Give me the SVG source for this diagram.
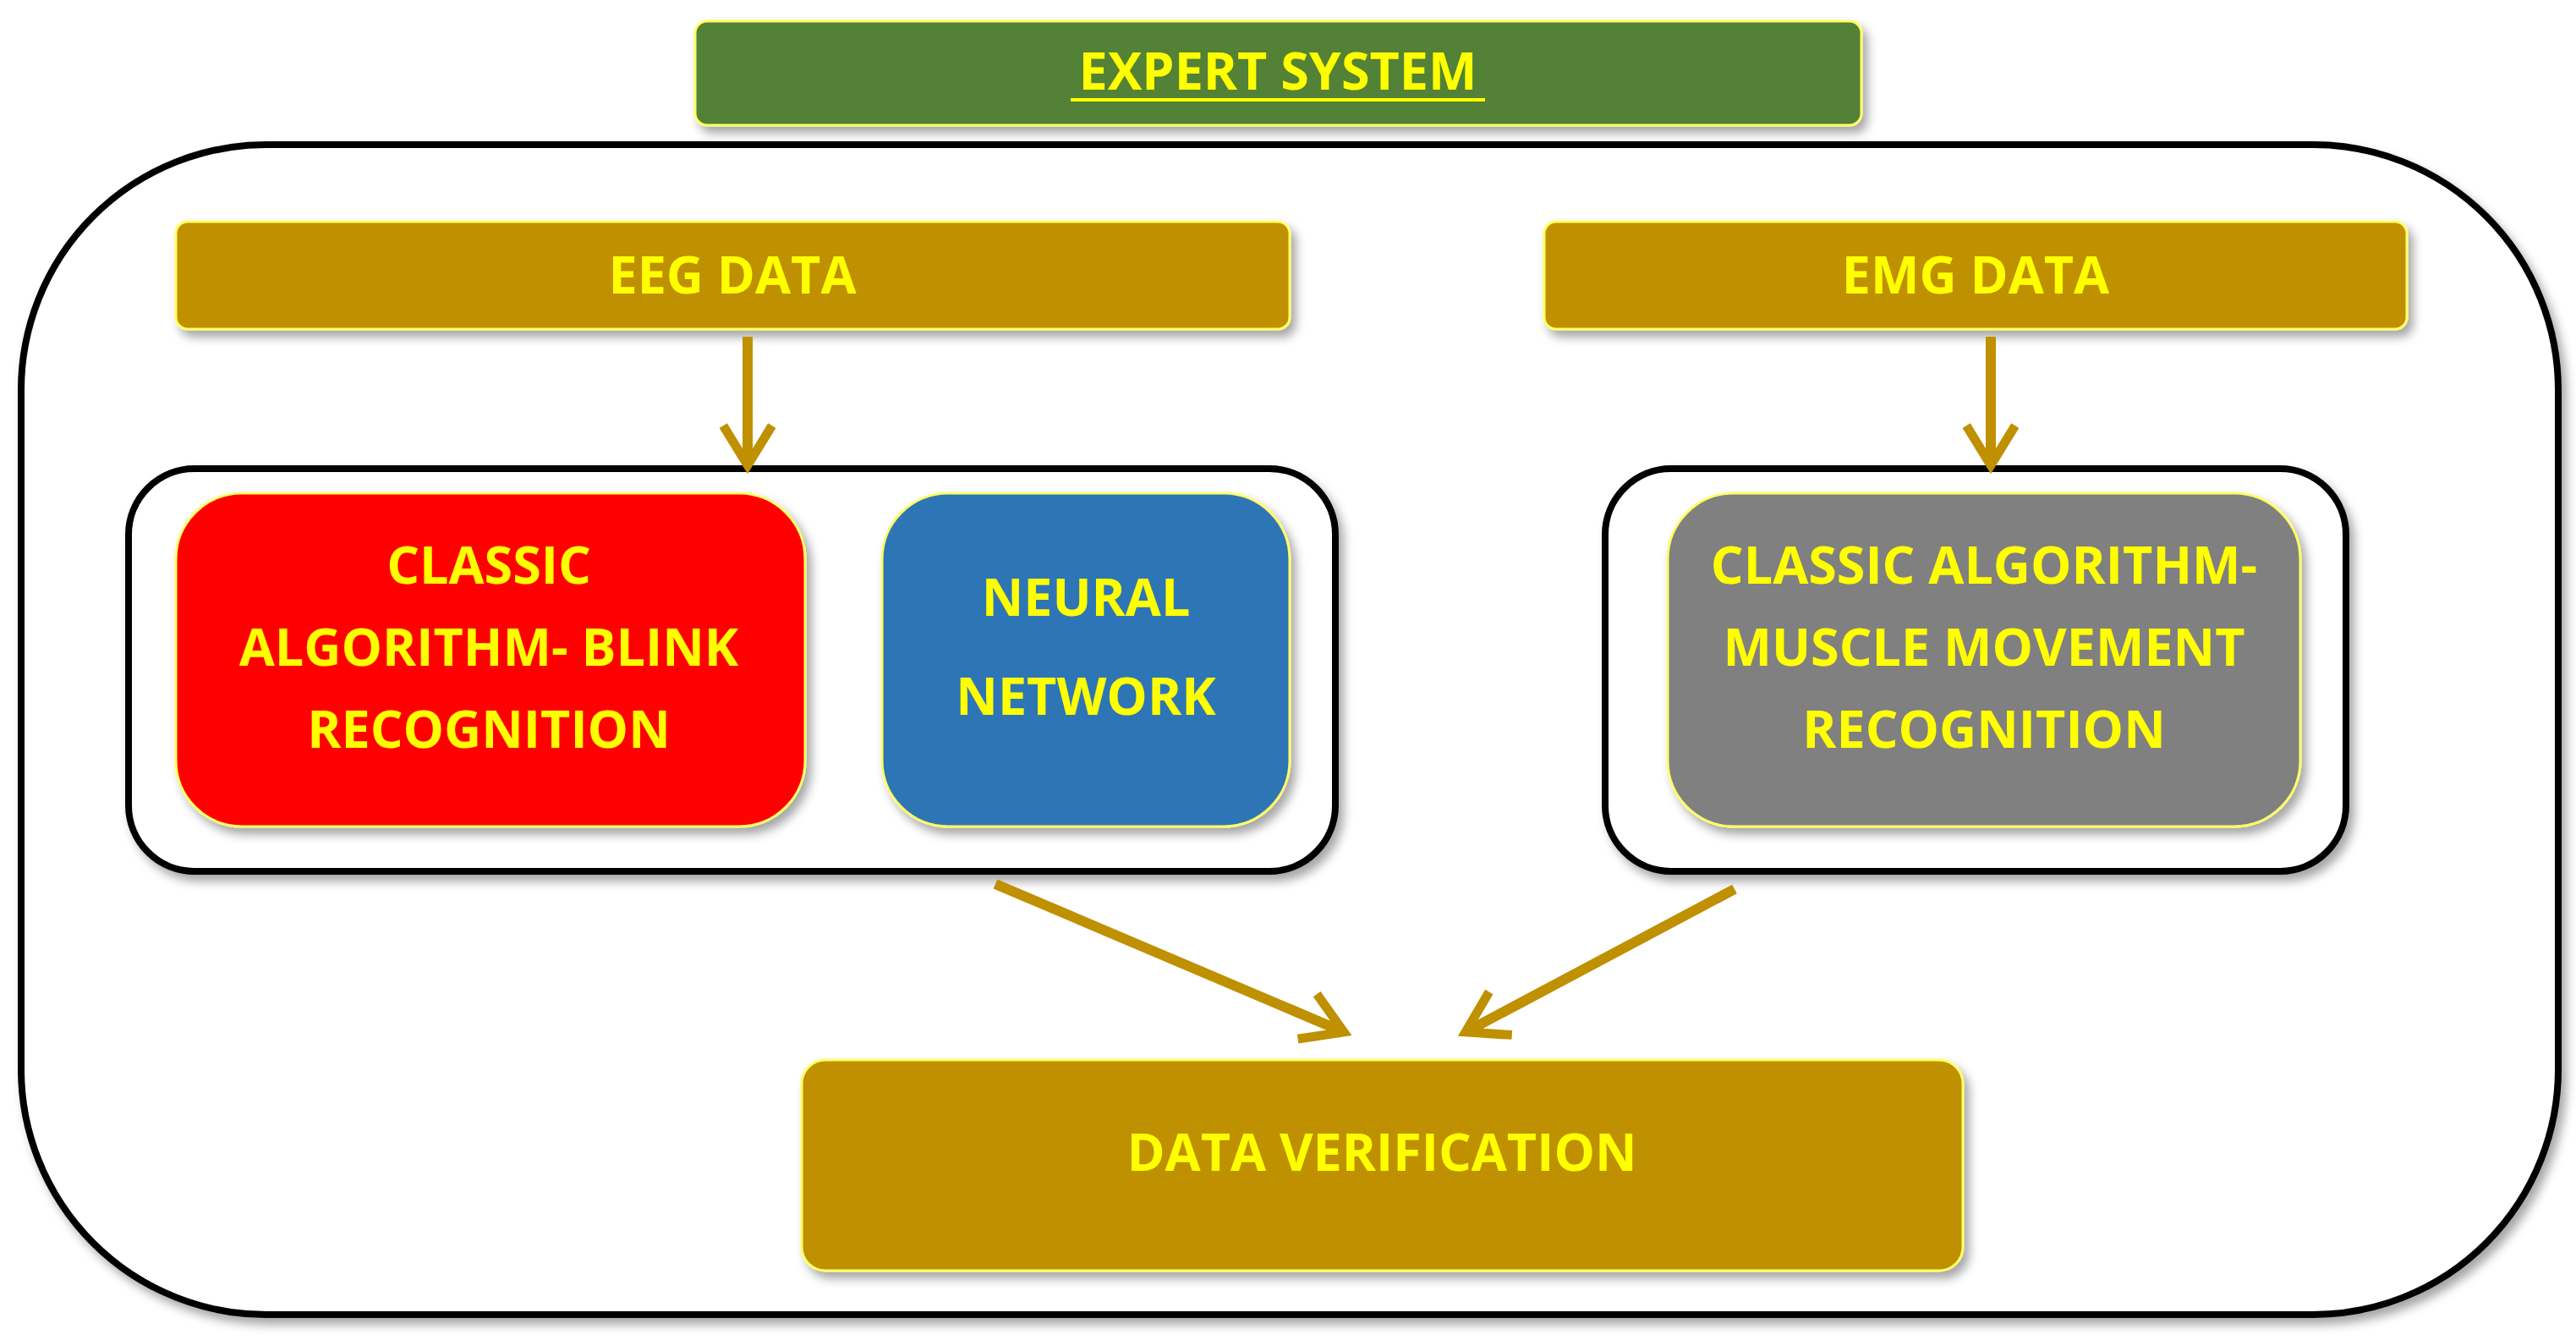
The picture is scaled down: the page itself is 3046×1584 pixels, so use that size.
<svg xmlns="http://www.w3.org/2000/svg" width="3046" height="1584" viewBox="0 0 3046 1584">
<defs>
<style>
.t{font-family:"Open Sans","Liberation Sans",sans-serif;font-weight:bold;font-size:61px;fill:#FFFF00;text-anchor:middle}
.bar{fill:#BF9000;stroke:#FFFF66;stroke-width:3}
.frame{fill:#fff;stroke:#000;stroke-width:8}
.c{stroke:#BF9000;stroke-width:12;fill:none}
</style>
<filter id="sh" x="-5%" y="-5%" width="115%" height="120%"><feDropShadow dx="6" dy="8" stdDeviation="6" flood-color="#000" flood-opacity="0.35"/></filter>
<marker id="ah" viewBox="0 0 20 20" refX="17" refY="10" markerWidth="6" markerHeight="6" orient="auto" markerUnits="strokeWidth">
<polyline points="4,2 17,10 4,18" fill="none" stroke="#BF9000" stroke-width="3"/>
</marker>
</defs>
<rect width="3046" height="1584" fill="#fff"/>
<g id="outer"><rect class="frame" x="25" y="171" width="3000" height="1383" rx="290" filter="url(#sh)"/></g>
<g id="expert"><rect x="822" y="25" width="1379" height="123" rx="14" fill="#538135" stroke="#FFFF66" stroke-width="3" filter="url(#sh)"/>
<text class="t" x="1511" y="106">EXPERT SYSTEM</text>
<line x1="1266" y1="118" x2="1756" y2="118" stroke="#FFFF00" stroke-width="4"/></g>
<g id="eeg"><rect class="bar" x="208" y="262" width="1317" height="127" rx="14" filter="url(#sh)"/><text class="t" x="866" y="347">EEG DATA</text></g>
<g id="emg"><rect class="bar" x="1826" y="262" width="1020" height="127" rx="14" filter="url(#sh)"/><text class="t" x="2336" y="347">EMG DATA</text></g>
<g id="leftbox"><rect class="frame" x="152" y="554" width="1427" height="476" rx="78" filter="url(#sh)"/></g>
<g id="rightbox"><rect class="frame" x="1898" y="554" width="876" height="476" rx="78" filter="url(#sh)"/></g>
<g id="classic"><rect x="208" y="583" width="744" height="394" rx="78" fill="#FF0000" stroke="#FFFF66" stroke-width="3" filter="url(#sh)"/>
<text class="t" x="578" y="690">CLASSIC</text><text class="t" x="578" y="787">ALGORITHM- BLINK</text><text class="t" x="578" y="884">RECOGNITION</text></g>
<g id="neural"><rect x="1043" y="583" width="482" height="394" rx="78" fill="#2E75B6" stroke="#FFFF66" stroke-width="3" filter="url(#sh)"/>
<text class="t" x="1284" y="728">NEURAL</text><text class="t" x="1284" y="845">NETWORK</text></g>
<g id="muscle"><rect x="1972" y="583" width="748" height="394" rx="78" fill="#808080" stroke="#FFFF66" stroke-width="3" filter="url(#sh)"/>
<text class="t" x="2346" y="690">CLASSIC ALGORITHM-</text><text class="t" x="2346" y="787">MUSCLE MOVEMENT</text><text class="t" x="2346" y="884">RECOGNITION</text></g>
<g id="verify"><rect class="bar" x="948" y="1253" width="1373" height="249" rx="28" filter="url(#sh)"/><text class="t" x="1634" y="1384">DATA VERIFICATION</text></g>
<g id="connectors">
<line class="c" x1="884" y1="398" x2="884" y2="550" marker-end="url(#ah)"/>
<line class="c" x1="2354" y1="398" x2="2354" y2="550" marker-end="url(#ah)"/>
<line class="c" x1="1177" y1="1045" x2="1589" y2="1220" marker-end="url(#ah)"/>
<line class="c" x1="2051" y1="1051" x2="1733" y2="1220" marker-end="url(#ah)"/>
</g>
</svg>
